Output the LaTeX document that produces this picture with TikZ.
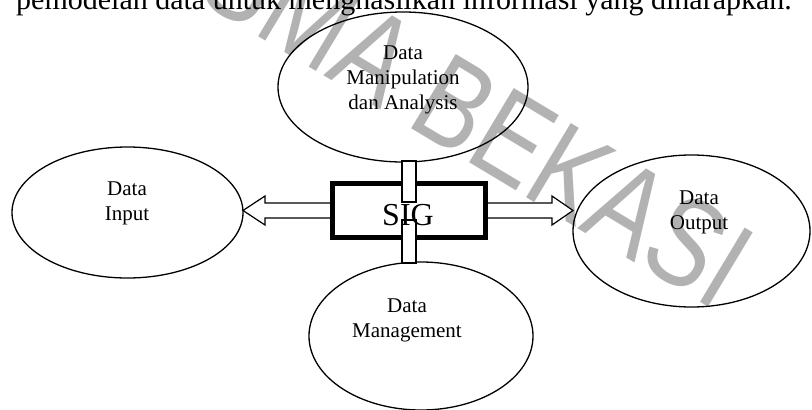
\documentclass[tikz,border=0pt]{standalone}
\usepackage{fontspec}
\usepackage{graphicx}
\setmainfont{Liberation Serif}
\newfontfamily\wmfont{Liberation Sans}
\usetikzlibrary{shapes.geometric,calc}

\tikzset{
  oval/.style={ellipse, draw, line width=1.3pt, inner sep=0pt, outer sep=0pt},
  lbl/.style={font=\fontsize{21}{25}\selectfont, anchor=base, inner sep=0pt},
  core/.style={rectangle, draw, fill=white, line width=5pt, inner sep=0pt, outer sep=0pt},
  barrow/.style={draw, fill=white, line width=1.2pt, line join=miter},
  link/.style={draw, fill=white, line width=1.2pt},
  mark text/.style={text=gray!60, inner sep=0pt,
    font=\wmfont\fontsize{126}{126}\selectfont}
}

\begin{document}
\begin{tikzpicture}[x=1pt, y=-1pt]
  \useasboundingbox (0,0) rectangle (812,410);

  % background watermark
  \node[mark text, rotate=-31, anchor=base east] (wm) at (717,312)
    {\scalebox{0.8}[1]{UNISMA BEKASI}};

  % running text line above the figure
  \node[anchor=base west, inner sep=0pt, font=\fontsize{30}{36}\selectfont] (lead)
    at (16,9.5) {pemodelan data untuk menghasilkan informasi yang diharapkan.};

  % the four components
  \node[oval, minimum width=250pt, minimum height=150pt] (dmda) at (403,87) {};
  \node[oval, minimum width=231pt, minimum height=131pt] (din)  at (127.5,212.5) {};
  \node[oval, minimum width=237pt, minimum height=152pt] (dout) at (691.5,231) {};
  \node[oval, minimum width=224pt, minimum height=148pt] (dman) at (421,336) {};

  \node[lbl] (tmda) at (403,59)
    {\begin{tabular}[t]{@{}c@{}}Data\\Manipulation\\dan Analysis\end{tabular}};
  \node[lbl] (tin) at (127,195)
    {\begin{tabular}[t]{@{}c@{}}Data\\Input\end{tabular}};
  \node[lbl] (tout) at (699,204)
    {\begin{tabular}[t]{@{}c@{}}Data\\Output\end{tabular}};
  \node[lbl] (tman) at (407,312.5)
    {\begin{tabular}[t]{@{}c@{}}Data\\Management\end{tabular}};

  % central box position
  \coordinate (c) at (409,210.5);
  \coordinate (ltip) at (din.east |- c);
  \coordinate (rtip) at (dout.west |- c);

  % block arrows to input and output
  \draw[barrow] ($(c)+(-77,-7.5)$) -- ($(ltip)+(22,-7.5)$) -- ($(ltip)+(22,-14.5)$)
    -- (ltip) -- ($(ltip)+(22,14.5)$) -- ($(ltip)+(22,7.5)$) -- ($(c)+(-77,7.5)$);
  \draw[barrow] ($(c)+(77,-7.5)$) -- ($(rtip)+(-21,-7.5)$) -- ($(rtip)+(-21,-14.5)$)
    -- (rtip) -- ($(rtip)+(-21,14.5)$) -- ($(rtip)+(-21,7.5)$) -- ($(c)+(77,7.5)$);

  % SIG box
  \node[core, minimum width=153pt, minimum height=54pt] (sig) at (c) {};

  % links to manipulation and management
  \coordinate (utop) at (sig.center |- dmda.south);
  \coordinate (lbot) at (sig.center |- dman.north);
  \draw[link] ($(utop)+(-7,-1)$) rectangle ($(sig.center)+(7,-8.5)$);
  \draw[link] ($(sig.center)+(-7,9.5)$) rectangle ($(lbot)+(7,1)$);

  \node[anchor=base, inner sep=0pt, font=\fontsize{32}{32}\selectfont] (sigt)
    at (408,225) {SIG};
\end{tikzpicture}
\end{document}
